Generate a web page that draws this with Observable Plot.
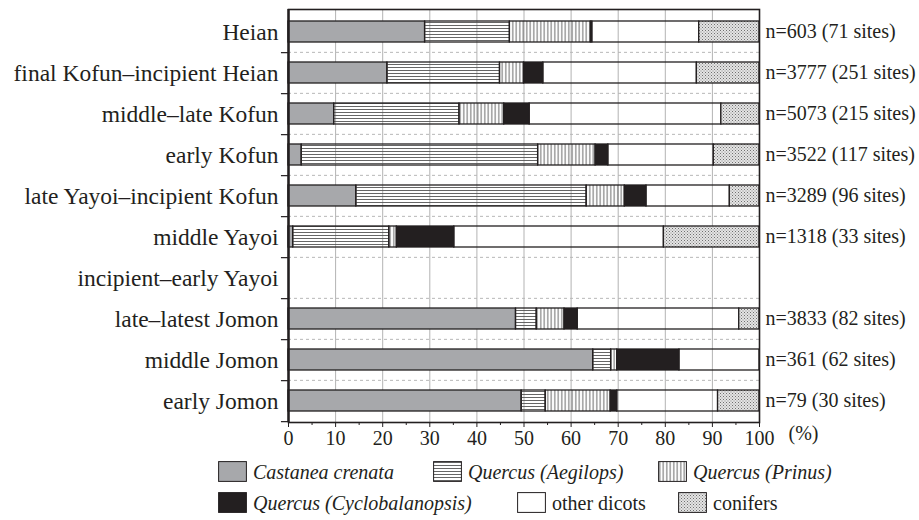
<!DOCTYPE html>
<html>
<head>
<meta charset="utf-8">
<script src="https://cdn.jsdelivr.net/npm/d3@7"></script>
<script src="https://cdn.jsdelivr.net/npm/@observablehq/plot@0.6"></script>
<style>
  html, body { margin: 0; padding: 0; background: #fff; }
  #wrap { position: relative; width: 919px; height: 520px; font-family: "Liberation Serif", "Times New Roman", serif; color: #231f20; }
  .item { position: absolute; display: flex; align-items: center; font-size: 20px; line-height: 1; white-space: nowrap; }
  .item svg { margin-right: 6px; }
  .it { font-style: italic; }
</style>
</head>
<body>
<svg width="0" height="0" style="position:absolute">
  <defs>
    <pattern id="pH" width="6" height="3" patternUnits="userSpaceOnUse">
      <line x1="0" y1="1.5" x2="6" y2="1.5" stroke="#555" stroke-width="0.9"/>
    </pattern>
    <pattern id="pV" width="3.5" height="6" patternUnits="userSpaceOnUse">
      <line x1="1.75" y1="0" x2="1.75" y2="6" stroke="#555" stroke-width="0.9"/>
    </pattern>
    <pattern id="pD" width="3" height="3" patternUnits="userSpaceOnUse">
      <rect x="0" y="0" width="3" height="3" fill="#e4e4e4"/>
      <rect x="0" y="0" width="1" height="1" fill="#6f6f6f"/>
      <rect x="1.5" y="1.5" width="1" height="1" fill="#8a8a8a"/>
    </pattern>
  </defs>
</svg>
<div id="wrap"></div>
<script>
const periods = [
  "Heian",
  "final Kofun–incipient Heian",
  "middle–late Kofun",
  "early Kofun",
  "late Yayoi–incipient Kofun",
  "middle Yayoi",
  "incipient–early Yayoi",
  "late–latest Jomon",
  "middle Jomon",
  "early Jomon"
];
const species = [
  "Castanea crenata",
  "Quercus (Aegilops)",
  "Quercus (Prinus)",
  "Quercus (Cyclobalanopsis)",
  "other dicots",
  "conifers"
];
// percentages per period (same order as periods); null = no data
const castanea  = [29.0, 21.0,  9.7,  2.8, 14.4,  1.0, null, 48.3, 64.7, 49.5];
const aegilops  = [18.0, 23.9, 26.6, 50.2, 48.9, 20.4, null,  4.4,  3.8,  5.1];
const prinus    = [17.2,  5.1,  9.5, 12.2,  8.1,  1.6, null,  5.9,  1.3, 13.8];
const cyclo     = [ 0.3,  4.1,  5.4,  2.7,  4.6, 12.2, null,  2.8, 13.2,  1.4];
const otherDic  = [22.7, 32.6, 40.7, 22.4, 17.7, 44.5, null, 34.3, 17.0, 21.4];
const conifers  = [12.8, 13.3,  8.1,  9.7,  6.3, 20.3, null,  4.3,  0.0,  8.8];
const counts = [
  "n=603 (71 sites)", "n=3777 (251 sites)", "n=5073 (215 sites)", "n=3522 (117 sites)",
  "n=3289 (96 sites)", "n=1318 (33 sites)", "", "n=3833 (82 sites)",
  "n=361 (62 sites)", "n=79 (30 sites)"
];
const xTicks = [0, 10, 20, 30, 40, 50, 60, 70, 80, 90, 100];
const xMinor = [5, 15, 25, 35, 45, 55, 65, 75, 85, 95];

const series = [castanea, aegilops, prinus, cyclo, otherDic, conifers];
const fills = ["#a7a8ab", "url(#pH)", "url(#pV)", "#231f20", "none", "url(#pD)"];

// long table with stacked extents
const rows = [];
periods.forEach((p, i) => {
  let acc = 0;
  series.forEach((s, k) => {
    const v = s[i];
    if (v == null || v <= 0) return;
    rows.push({period: p, species: species[k], k, x1: acc, x2: acc + v});
    acc += v;
  });
});
const countRows = periods.map((p, i) => ({period: p, label: counts[i]}));

const W = 919, H = 452, mt = 9, mb = 30, ml = 288, mr = 160;
const step = (H - mt - mb) / periods.length;

const ink = "#231f20";
const plot = Plot.plot({
  width: W, height: H,
  marginLeft: ml, marginRight: mr, marginTop: mt, marginBottom: mb,
  style: {fontFamily: "'Liberation Serif', 'Times New Roman', serif", fontSize: "20px", color: ink, background: "white", overflow: "visible"},
  x: {domain: [0, 100], label: null},
  y: {domain: periods, paddingInner: 0.5, paddingOuter: 0.25, label: null},
  marks: [
    Plot.ruleX(xTicks.slice(1, -1), {stroke: "#b3b3b3", strokeWidth: 1}),
    Plot.ruleY(periods.slice(1), {y: d => d, dy: -step / 2, stroke: "#b8b8b8", strokeDasharray: "3,3", strokeWidth: 1}),
    ...species.map((s, k) => Plot.barX(rows.filter(r => r.k === k), {
      x1: "x1", x2: "x2", y: "period", fill: fills[k], stroke: ink, strokeWidth: 1.3
    })),
    Plot.frame({stroke: ink, strokeWidth: 1.6}),
    Plot.ruleX([0], {stroke: ink, strokeWidth: 2.4}),
    Plot.ruleY(periods, {y: d => d, dy: step / 2, x1: -1.5, x2: 0, stroke: ink, strokeWidth: 1.2, clip: false}),
    Plot.axisY({tickSize: 0, tickPadding: 10, fontSize: 23.5}),
    Plot.axisX(xTicks, {tickSize: 5, tickPadding: 3, fontSize: 20, stroke: ink}),
    Plot.axisX(xMinor, {tickSize: 3, tickFormat: () => "", stroke: ink}),
    Plot.text(countRows, {x: () => 100, y: "period", text: "label", textAnchor: "start", dx: 6, fontSize: 20}),
    Plot.text(["(%)"], {x: () => 100, frameAnchor: "bottom", dx: 29, dy: 17, textAnchor: "start", fontSize: 20})
  ]
});
const wrap = document.getElementById("wrap");
wrap.appendChild(plot);

// legend
const legend = [
  {k: 0, left: 218, top: 461, italic: true},
  {k: 1, left: 433, top: 461, italic: true},
  {k: 2, left: 658, top: 461, italic: true},
  {k: 3, left: 218, top: 492, italic: true},
  {k: 4, left: 517, top: 492, italic: false},
  {k: 5, left: 678, top: 492, italic: false}
];
legend.forEach(l => {
  const d = document.createElement("div");
  d.className = "item";
  d.style.left = l.left + "px";
  d.style.top = l.top + "px";
  const f = fills[l.k] === "none" ? "#fff" : fills[l.k];
  d.innerHTML = `<svg width="29" height="21"><rect x="0.6" y="0.6" width="27.8" height="19.8" fill="${f}" stroke="${ink}" stroke-width="1"/></svg><span class="${l.italic ? "it" : ""}">${species[l.k]}</span>`;
  wrap.appendChild(d);
});
</script>
</body>
</html>
